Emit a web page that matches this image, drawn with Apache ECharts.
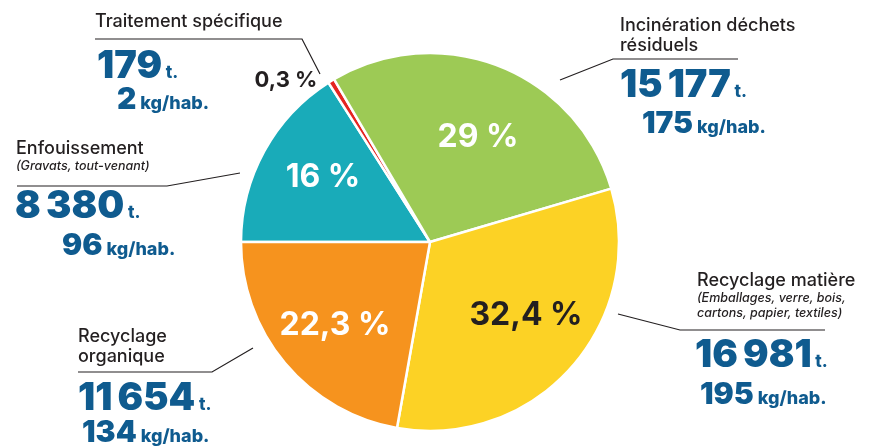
<!DOCTYPE html>
<html>
<head>
<meta charset="utf-8">
<script src="https://cdn.jsdelivr.net/npm/echarts@6/dist/echarts.min.js"></script>
<style>
  html, body { margin: 0; padding: 0; background: #fff; }
  #chart { width: 878px; height: 446px; }
</style>
</head>
<body>
<div id="chart"></div>
<script>
// slices in drawing order, clockwise from 9 o'clock
var names = ['Enfouissement', 'Traitement spécifique', 'Incinération déchets résiduels', 'Recyclage matière', 'Recyclage organique'];
var titles = ['Enfouissement', 'Traitement spécifique', 'Incinération déchets\nrésiduels', 'Recyclage matière', 'Recyclage\norganique'];
var subtitles = ['(Gravats, tout-venant)', '', '', '(Emballages, verre, bois,\ncartons, papier, textiles)', ''];
var tonnes = [8380, 179, 15177, 16981, 11654];
var kgHab = [96, 2, 175, 195, 134];
var percents = ['16 %', '0,3 %', '29 %', '32,4 %', '22,3 %'];
var colors = ['#19abb9', '#e52421', '#9dca55', '#fcd225', '#f6931e'];

// where the texts sit (label anchors), per slice
var pctPos = [[323, 177], [286, 80], [478, 137], [526, 315], [335, 325]];
var titlePos = [[16, 174], [95, 32], [620, 56], [697, 321], [78, 367]];
var tonPos = [[15, 207], [97, 67], [620, 86], [695, 356], [78, 399]];
var kgPos = [[62, 246], [117, 100], [642, 124], [700, 395], [82, 433]];
var leaders = [
  [[240, 173], [167, 186], [17, 186]],
  [[320, 74], [302, 39], [95, 39]],
  [[560, 80], [613, 59], [738, 59]],
  [[618, 314], [680, 330], [825, 330]],
  [[253, 348], [212, 372], [78, 372]]
];

var FONT = 'Inter, "Noto Sans", sans-serif';
var DARK = '#231f20';
var BLUE = '#0f5b8f';

function fmt(n) {
  return String(n).replace(/\B(?=(\d{3})+(?!\d))/g, '\u202f');
}

function baseData(color) {
  return tonnes.map(function (v, i) {
    return { value: v, name: names[i], itemStyle: { color: color || colors[i] } };
  });
}

var common = {
  type: 'pie',
  center: [430, 242],
  radius: 189,
  startAngle: 180,
  clockwise: true,
  minAngle: 2,
  avoidLabelOverlap: false,
  silent: true,
  emphasis: { disabled: true }
};

var chart = echarts.init(document.getElementById('chart'));

var mainData = baseData().map(function (d, i) {
  d.label = {
    color: (i === 1 || i === 3) ? DARK : '#fff',
    fontSize: i === 1 ? 22 : 32
  };
  return d;
});

chart.setOption({
  animation: false,
  series: [
    Object.assign({}, common, {
      name: 'pie',
      z: 2,
      data: mainData,
      itemStyle: { borderColor: '#fff', borderWidth: 2.5 },
      label: {
        show: true,
        position: 'inside',
        fontFamily: FONT,
        fontWeight: 700,
        formatter: function (p) { return percents[p.dataIndex]; }
      },
      labelLine: { show: false },
      labelLayout: function (p) {
        var q = pctPos[p.dataIndex];
        return { x: q[0], y: q[1], align: 'center', verticalAlign: 'middle' };
      }
    }),
    Object.assign({}, common, {
      name: 'titles',
      z: 1,
      data: baseData('rgba(0,0,0,0)'),
      label: {
        show: true,
        position: 'outside',
        formatter: function (p) {
          var i = p.dataIndex;
          var s = titles[i].split('\n').map(function (l) { return '{t|' + l + '}'; });
          if (subtitles[i]) {
            s = s.concat(subtitles[i].split('\n').map(function (l) { return '{s|' + l + '}'; }));
          }
          return s.join('\n');
        },
        rich: {
          t: { fontFamily: FONT, fontSize: 18, fontWeight: 500, color: DARK, lineHeight: 20 },
          s: { fontFamily: FONT, fontSize: 12.5, fontStyle: 'italic', fontWeight: 500, color: DARK, lineHeight: 15 }
        }
      },
      labelLine: { show: true, lineStyle: { color: DARK, width: 1.2 } },
      labelLayout: function (p) {
        var q = titlePos[p.dataIndex];
        return {
          x: q[0], y: q[1], align: 'left', verticalAlign: 'bottom',
          labelLinePoints: leaders[p.dataIndex]
        };
      }
    }),
    Object.assign({}, common, {
      name: 'tonnes',
      z: 1,
      data: baseData('rgba(0,0,0,0)'),
      label: {
        show: true,
        position: 'outside',
        formatter: function (p) { return '{n|' + fmt(tonnes[p.dataIndex]) + '}{u| t.}'; },
        rich: {
          n: { fontFamily: FONT, fontSize: 38, fontWeight: 900, color: BLUE, lineHeight: 29 },
          u: { fontFamily: FONT, fontSize: 17, fontWeight: 800, color: BLUE, verticalAlign: 'bottom' }
        }
      },
      labelLine: { show: false },
      labelLayout: function (p) {
        var q = tonPos[p.dataIndex];
        return { x: q[0], y: q[1], align: 'left', verticalAlign: 'middle' };
      }
    }),
    Object.assign({}, common, {
      name: 'kg',
      z: 1,
      data: baseData('rgba(0,0,0,0)'),
      label: {
        show: true,
        position: 'outside',
        formatter: function (p) { return '{n|' + kgHab[p.dataIndex] + '}{u| kg/hab.}'; },
        rich: {
          n: { fontFamily: FONT, fontSize: 30, fontWeight: 900, color: BLUE, lineHeight: 25 },
          u: { fontFamily: FONT, fontSize: 18, fontWeight: 800, color: BLUE, verticalAlign: 'bottom' }
        }
      },
      labelLine: { show: false },
      labelLayout: function (p) {
        var q = kgPos[p.dataIndex];
        return { x: q[0], y: q[1], align: 'left', verticalAlign: 'middle' };
      }
    })
  ]
});
</script>
</body>
</html>
